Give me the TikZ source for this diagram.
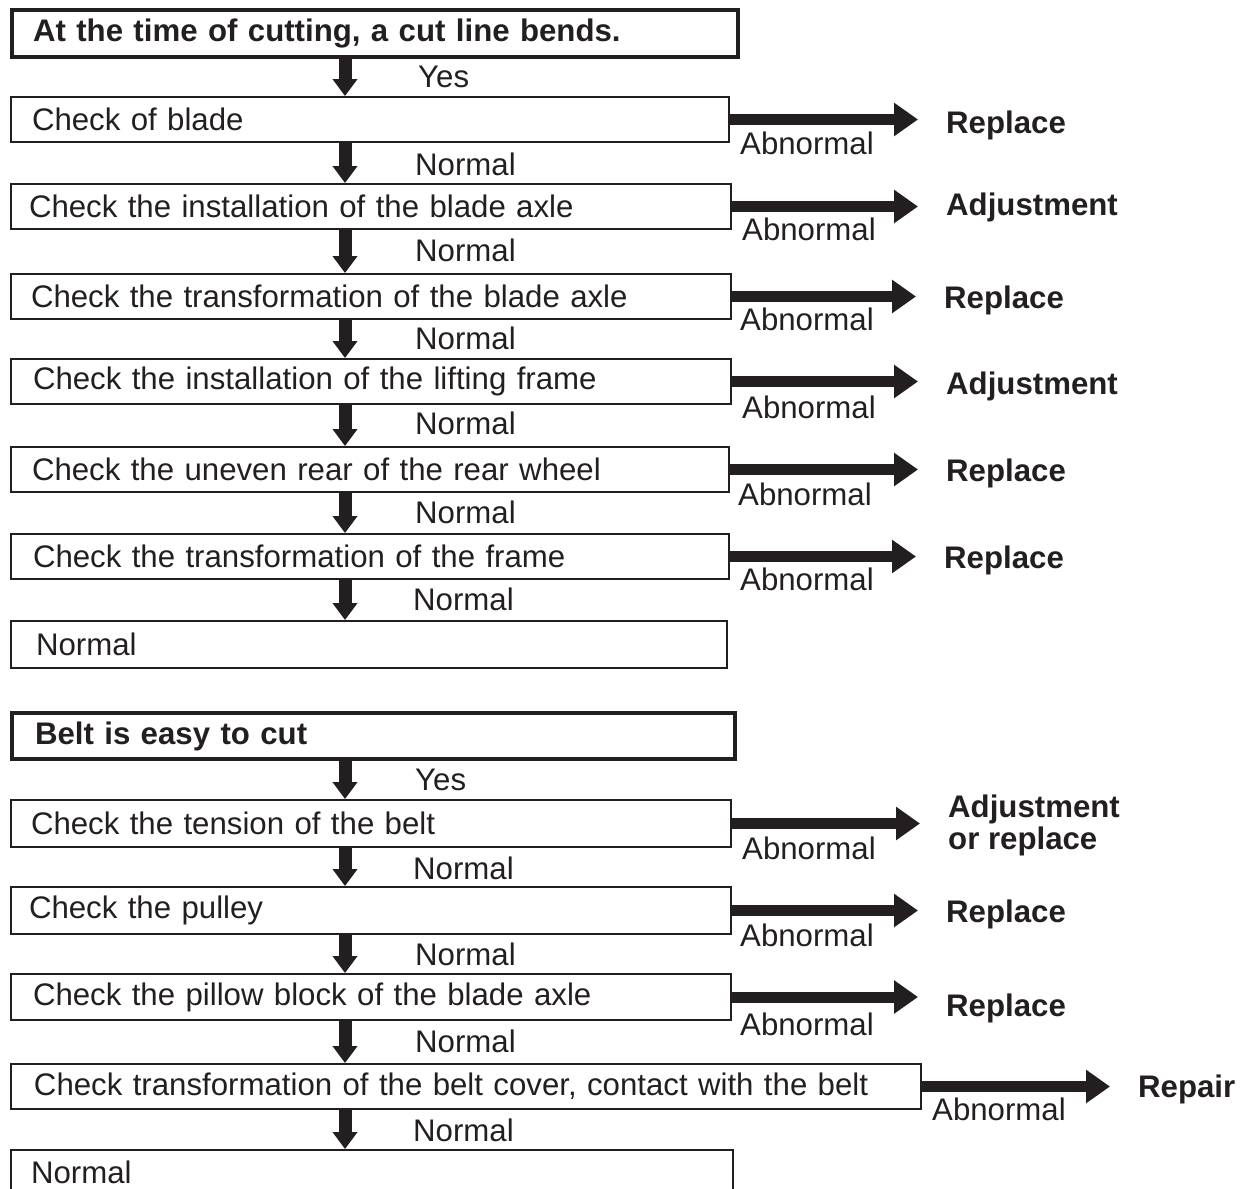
\documentclass[tikz,border=0pt]{standalone}
\usepackage{fontspec}
\setmainfont{Liberation Sans}
\usetikzlibrary{arrows.meta}
\definecolor{ink}{HTML}{231F20}
\begin{document}
\begin{tikzpicture}[x=1pt,y=-1pt,
  every node/.style={text=ink, font=\fontsize{31.2pt}{36pt}\selectfont},
  box/.style={draw=ink, line width=2pt, anchor=north west, inner xsep=21pt, inner ysep=0pt, align=left},
  titlebox/.style={box, line width=4pt, font=\fontsize{31.2pt}{36pt}\selectfont\bfseries},
  lbl/.style={anchor=base west, inner sep=0pt},
  res/.style={anchor=base west, inner sep=0pt, font=\fontsize{31.2pt}{36pt}\selectfont\bfseries},
  down/.style={draw=ink, line width=13pt, -{Triangle[width=24pt,length=17pt]}},
  right/.style={draw=ink, line width=11pt, -{Triangle[width=32pt,length=24pt]}, shorten >=28pt}
]
\useasboundingbox (0,0) rectangle (1251,1189);
\coordinate (dx) at (345,0);

% ---------- first chart ----------
\node[titlebox, text width=684pt, minimum height=47pt] (T1) at (10,8) {At the time of cutting, a cut line bends.};
\node[box, text width=676pt, minimum height=45pt] (B1) at (10,96) {Check of blade};
\node[box, inner xsep=18pt, text width=684pt, minimum height=45pt] (B2) at (10,183) {Check the installation of the blade axle};
\node[box, inner xsep=20pt, text width=680pt, minimum height=45pt] (B3) at (10,273) {Check the transformation of the blade axle};
\node[box, inner xsep=22pt, text width=676pt, minimum height=45pt] (B4) at (10,358) {Check the installation of the lifting frame};
\node[box, inner xsep=21pt, text width=676pt, minimum height=45pt] (B5) at (10,446) {Check the uneven rear of the rear wheel};
\node[box, inner xsep=22pt, text width=674pt, minimum height=45pt] (B6) at (10,533) {Check the transformation of the frame};
\node[box, inner xsep=25pt, text width=666pt, minimum height=47pt] (B7) at (10,620) {Normal};

\draw[down] (T1.south -| dx) -- (B1.north -| dx);
\draw[down] (B1.south -| dx) -- (B2.north -| dx);
\draw[down] (B2.south -| dx) -- (B3.north -| dx);
\draw[down] (B3.south -| dx) -- (B4.north -| dx);
\draw[down] (B4.south -| dx) -- (B5.north -| dx);
\draw[down] (B5.south -| dx) -- (B6.north -| dx);
\draw[down] (B6.south -| dx) -- (B7.north -| dx);

\node[lbl] (y1) at (418,87) {Yes};
\node[lbl] (n1) at (415,175) {Normal};
\node[lbl] (n2) at (415,261) {Normal};
\node[lbl] (n3) at (415,349) {Normal};
\node[lbl] (n4) at (415,434) {Normal};
\node[lbl] (n5) at (415,523) {Normal};
\node[lbl] (n6) at (413,610) {Normal};

\node[lbl] (a1) at (740,154) {Abnormal};
\node[lbl] (a2) at (742,240) {Abnormal};
\node[lbl] (a3) at (740,330) {Abnormal};
\node[lbl] (a4) at (742,418) {Abnormal};
\node[lbl] (a5) at (738,505) {Abnormal};
\node[lbl] (a6) at (740,590) {Abnormal};

\node[res] (r1) at (946,133) {Replace};
\node[res] (r2) at (946,215) {Adjustment};
\node[res] (r3) at (944,308) {Replace};
\node[res] (r4) at (946,394) {Adjustment};
\node[res] (r5) at (946,481) {Replace};
\node[res] (r6) at (944,568) {Replace};

\draw[right] (B1.east) -- (B1.east -| r1.west);
\draw[right] (B2.east) -- (B2.east -| r2.west);
\draw[right] (B3.east) -- (B3.east -| r3.west);
\draw[right] (B4.east) -- (B4.east -| r4.west);
\draw[right] (B5.east) -- (B5.east -| r5.west);
\draw[right] (B6.east) -- (B6.east -| r6.west);

% ---------- second chart ----------
\node[titlebox, inner xsep=23pt, text width=677pt, minimum height=46pt] (T2) at (10,711) {Belt is easy to cut};
\node[box, inner xsep=20pt, text width=680pt, minimum height=47pt] (C1) at (10,799) {Check the tension of the belt};
\node[box, inner xsep=18pt, text width=684pt, minimum height=47pt] (C2) at (10,886) {Check the pulley};
\node[box, inner xsep=22pt, text width=676pt, minimum height=46pt] (C3) at (10,973) {Check the pillow block of the blade axle};
\node[box, inner xsep=23pt, text width=864pt, minimum height=45pt] (C4) at (10,1063) {Check transformation of the belt cover, contact with the belt};
\node[box, inner xsep=20pt, text width=682pt, minimum height=45pt] (C5) at (10,1149) {Normal};

\draw[down] (T2.south -| dx) -- (C1.north -| dx);
\draw[down] (C1.south -| dx) -- (C2.north -| dx);
\draw[down] (C2.south -| dx) -- (C3.north -| dx);
\draw[down] (C3.south -| dx) -- (C4.north -| dx);
\draw[down] (C4.south -| dx) -- (C5.north -| dx);

\node[lbl] (y2) at (415,790) {Yes};
\node[lbl] (m1) at (413,879) {Normal};
\node[lbl] (m2) at (415,965) {Normal};
\node[lbl] (m3) at (415,1052) {Normal};
\node[lbl] (m4) at (413,1141) {Normal};

\node[lbl] (b1) at (742,859) {Abnormal};
\node[lbl] (b2) at (740,946) {Abnormal};
\node[lbl] (b3) at (740,1035) {Abnormal};
\node[lbl] (b4) at (932,1120) {Abnormal};

\node[anchor=west, inner sep=0pt, align=left, font=\fontsize{31.2pt}{32pt}\selectfont\bfseries] (s1) at (948,825) {Adjustment\\or replace};
\node[res] (s2) at (946,922) {Replace};
\node[res] (s3) at (946,1016) {Replace};
\node[res] (s4) at (1138,1097) {Repair};

\draw[right] (C1.east) -- (C1.east -| s1.west);
\draw[right] (C2.east) -- (C2.east -| s2.west);
\draw[right] (C3.east) -- (C3.east -| s3.west);
\draw[right] (C4.east) -- (C4.east -| s4.west);
\end{tikzpicture}
\end{document}
